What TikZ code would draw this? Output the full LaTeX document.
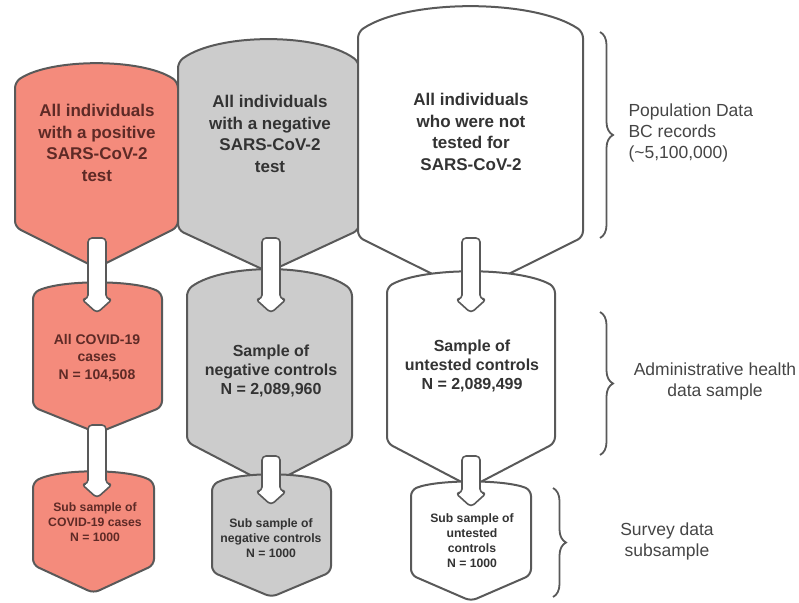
\documentclass[tikz,border=0pt]{standalone}
\usepackage{fontspec}
\setmainfont{Liberation Sans}
\usetikzlibrary{decorations.pathreplacing,calc}

\definecolor{posred}{HTML}{F48B7C}
\definecolor{neggray}{HTML}{CCCCCC}
\definecolor{edge}{HTML}{595959}
\definecolor{redtext}{HTML}{5E2A26}
\definecolor{darktext}{HTML}{333333}
\definecolor{sidetext}{HTML}{454545}

\begin{document}
\begin{tikzpicture}[x=1pt,y=-1pt,
  tank/.style={draw=edge,line width=2pt,rounded corners=6pt,line join=round},
  blk/.style={draw=edge,fill=white,line width=1.6pt,rounded corners=4pt,line join=round},
  toptxt/.style={align=center,font=\bfseries\fontsize{17}{21.5}\selectfont},
  midtxt/.style={align=center,font=\bfseries\fontsize{16}{19}\selectfont},
  subtxt/.style={align=center,font=\bfseries\fontsize{12.2}{15}\selectfont},
  side/.style={align=center,text=sidetext,font=\fontsize{17.5}{21}\selectfont},
  brc/.style={draw=edge,line width=1.8pt,decorate,decoration={brace,amplitude=13pt}}]

\useasboundingbox (0,0) rectangle (799,602);

% tanks: fill/left/right/apex/side top/side bottom/point
\foreach \f/\l/\r/\a/\t/\b/\p in {
  posred/15/178/64/82/227/268, neggray/178/359/40/62/230/272, white/358/583/7/32/237/293,
  posred/33/162/283/293/407/433, neggray/187/352/270/290/442/485, white/387/555/272/287/443/487,
  posred/33/154/472/482/565/593, neggray/212/331/475/485/572/597, white/411/531/482/490/575/601}{
  \pgfmathsetmacro{\c}{(4*\a-\t)/3}
  \pgfmathsetmacro{\m}{(\l+\r)/2}
  \pgfmathsetmacro{\k}{0.22*(\r-\l)}
  \path[tank,fill=\f] (\l,\t) .. controls (\l+\k,\c) and (\r-\k,\c) .. (\r,\t)
    -- (\r,\b) -- (\m,\p) -- (\l,\b) -- cycle;
}

% arrow ends
\coordinate (postop-out) at (97,238);
\coordinate (posmid-in) at (97,313);
\coordinate (posmid-out) at (97,425);
\coordinate (possub-in) at (97,498);
\coordinate (negtop-out) at (271,238);
\coordinate (negmid-in) at (271,313);
\coordinate (negmid-out) at (271,456);
\coordinate (negsub-in) at (271,505);
\coordinate (untop-out) at (471,238);
\coordinate (unmid-in) at (471,313);
\coordinate (unmid-out) at (471,456);
\coordinate (unsub-in) at (471,507);

\foreach \s/\e in {postop-out/posmid-in,posmid-out/possub-in,negtop-out/negmid-in,
  negmid-out/negsub-in,untop-out/unmid-in,unmid-out/unsub-in}
  \path[blk] let \p1=(\s), \p2=(\e) in (\x1-9pt,\y1) -- (\x1-9pt,\y2+14pt)
    -- (\x1-15.5pt,\y2+14pt) -- (\x2,\y2) -- (\x1+15.5pt,\y2+14pt)
    -- (\x1+9pt,\y2+14pt) -- (\x1+9pt,\y1) -- cycle;

% texts in the tanks
\node[toptxt,text=redtext] (postop) at (97,143) {All individuals\\with a positive\\SARS-CoV-2\\test};
\node[toptxt,text=darktext] (negtop) at (270,134) {All individuals\\with a negative\\SARS-CoV-2\\test};
\node[toptxt,text=darktext] (untop) at (471,132) {All individuals\\who were not\\tested for\\SARS-CoV-2};
\node[midtxt,text=redtext,font=\bfseries\fontsize{14}{17.5}\selectfont] (posmid) at (97,358) {All COVID-19\\cases\\N = 104,508};
\node[midtxt,text=darktext] (negmid) at (271,371) {Sample of\\negative controls\\N = 2,089,960};
\node[midtxt,text=darktext] (unmid) at (472,366) {Sample of\\untested controls\\N = 2,089,499};
\node[subtxt,text=redtext] (possub) at (95,522) {Sub sample of\\COVID-19 cases\\N = 1000};
\node[subtxt,text=darktext] (negsub) at (271,538) {Sub sample of\\negative controls\\N = 1000};
\node[subtxt,text=darktext] (unsub) at (472,541) {Sub sample of\\untested\\controls\\N = 1000};

% braces and their labels
\draw[brc] (600,32) -- (600,238);
\draw[brc] (600,312) -- (600,455);
\draw[brc] (553,488) -- (553,597);
\node[side,align=left,anchor=west] (popdata) at (625,133) {Population Data\\BC records\\(\textasciitilde5,100,000)};
\node[side] (admin) at (715,381) {Administrative health\\data sample};
\node[side] (survey) at (667,541) {Survey data\\subsample};
\end{tikzpicture}
\end{document}
